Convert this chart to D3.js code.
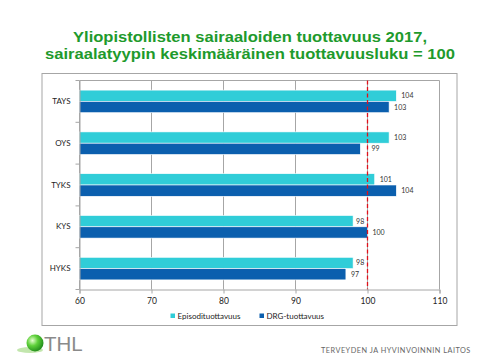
<!DOCTYPE html>
<html><head><meta charset="utf-8">
<script src="https://cdn.jsdelivr.net/npm/d3@7"></script>
<style>body{margin:0;background:#fff;}svg{display:block;}</style>
</head><body>
<script>
const categories = ["TAYS","OYS","TYKS","KYS","HYKS"];
const episodi = [104,103,101,98,98];
const drg = [103,99,104,100,97];
const seriesNames = ["Episodituottavuus","DRG-tuottavuus"];
const xTicks = [60,70,80,90,100,110];
const refValue = 100;
const titleLines = ["Yliopistollisten sairaaloiden tuottavuus 2017,","sairaalatyypin keskimääräinen tuottavuusluku = 100"];

(function(){
const W=500,H=357;
const svg=d3.select("body").append("svg").attr("width",W).attr("height",H);
const colors=["#30cdd8","#0b5fae"];
const green="#1e9a2c";

const tw=[354,410], ty=[42,58.5];
titleLines.forEach((s,i)=>{
  svg.append("text").attr("x",250-tw[i]/2).attr("y",ty[i])
    .attr("font-family","Liberation Sans, Arial, sans-serif").attr("font-weight","bold")
    .attr("font-size",14.6).attr("fill",green)
    .attr("textLength",tw[i]).attr("lengthAdjust","spacingAndGlyphs").text(s);
});

svg.append("rect").attr("x",42).attr("y",73.5).attr("width",415).attr("height",252)
  .attr("fill","#fff").attr("stroke","#a6a6a6").attr("stroke-width",1);

const pl=79.5,pr=439.5,pt=80.5,pb=289.5;
const x=d3.scaleLinear().domain([60,110]).range([pl,pr]);
const y=d3.scaleBand().domain(categories).range([pt,pb]).paddingInner(0.46).paddingOuter(0.23);
const ys=d3.scaleBand().domain([0,1]).range([0,y.bandwidth()]);

svg.selectAll("line.grid").data(xTicks).join("line").attr("class","grid")
  .attr("x1",d=>x(d)).attr("x2",d=>x(d)).attr("y1",pt).attr("y2",pb)
  .attr("stroke","#a6a6a6").attr("stroke-width",1);
svg.append("line").attr("x1",pl).attr("x2",pr).attr("y1",pt).attr("y2",pt).attr("stroke","#a6a6a6");

const refX=x(refValue);
const data=categories.map((c,i)=>({c,vals:[episodi[i],drg[i]]}));
data.forEach(d=>{
  d.vals.forEach((v,k)=>{
    const yy=y(d.c)+ys(k);
    svg.append("rect").attr("x",x(60)).attr("y",yy).attr("width",x(v)-x(60)).attr("height",ys.bandwidth())
      .attr("fill",colors[k]).attr("stroke","#fff").attr("stroke-width",0.6);
    const t=svg.append("text").attr("y",yy+ys.bandwidth()/2+2.5)
      .attr("font-family","Lato, Open Sans, sans-serif").attr("font-size",7).attr("fill","#333").text(v);
    let lx=x(v)+5;
    const w=t.node().getComputedTextLength();
    if(lx<refX && lx+w>refX-1.5) lx = (x(v)+3+w<refX-1.5) ? x(v)+3 : refX+4;
    t.attr("x",lx);
  });
});

svg.append("line").attr("x1",refX).attr("x2",refX).attr("y1",pt).attr("y2",pb)
  .attr("stroke","#e0101a").attr("stroke-width",1.3).attr("stroke-dasharray","4,2.5");

const xa=svg.append("g").attr("transform",`translate(0,${pb})`)
  .call(d3.axisBottom(x).tickValues(xTicks).tickSize(4).tickPadding(4));
xa.select(".domain").attr("stroke","#a6a6a6");
xa.selectAll(".tick line").attr("stroke","#a6a6a6");
xa.selectAll("text").attr("font-family","Lato, Open Sans, sans-serif").attr("font-size",8.5).attr("fill","#222");

const ya=svg.append("g").attr("transform",`translate(${pl},0)`)
  .call(d3.axisLeft(y).tickSize(0).tickPadding(9));
ya.select(".domain").attr("stroke","#a6a6a6");
ya.selectAll("text").attr("font-family","Lato, Open Sans, sans-serif").attr("font-size",8).attr("fill","#222");
const bounds=d3.range(categories.length+1).map(i=>pt+i*(pb-pt)/categories.length);
svg.selectAll("line.bt").data(bounds).join("line").attr("class","bt").attr("x1",pl-4).attr("x2",pl)
  .attr("y1",d=>d).attr("y2",d=>d).attr("stroke","#a6a6a6");

const leg=[{x:170.5,name:seriesNames[0],c:colors[0]},{x:259.5,name:seriesNames[1],c:colors[1]}];
leg.forEach(l=>{
  svg.append("rect").attr("x",l.x).attr("y",313.5).attr("width",4.5).attr("height",4.5).attr("fill",l.c);
  svg.append("text").attr("x",l.x+7).attr("y",319).attr("font-family","Lato, Open Sans, sans-serif")
    .attr("font-size",8).attr("fill","#222").text(l.name);
});

const defs=svg.append("defs");
const rg=defs.append("radialGradient").attr("id","sph").attr("cx","35%").attr("cy","35%").attr("r","70%");
rg.append("stop").attr("offset","0%").attr("stop-color","#e6ffd0");
rg.append("stop").attr("offset","45%").attr("stop-color","#5fd13a");
rg.append("stop").attr("offset","100%").attr("stop-color","#1f8a1a");
svg.append("ellipse").attr("cx",30).attr("cy",350).attr("rx",13).attr("ry",3).attr("fill","#a8dc8a").attr("opacity",0.7);
svg.append("circle").attr("cx",35).attr("cy",343).attr("r",8.5).attr("fill","url(#sph)");
svg.append("text").attr("x",44).attr("y",350.5).attr("font-family","Liberation Sans, Arial, sans-serif")
  .attr("font-size",20.5).attr("fill","#8a8a8a").text("THL");
svg.append("text").attr("x",321).attr("y",352.5).attr("font-family","Lato, Open Sans, sans-serif")
  .attr("font-size",7.3).attr("letter-spacing",0.5).attr("fill","#666").text("TERVEYDEN JA HYVINVOINNIN LAITOS");
})();
</script>
</body></html>
